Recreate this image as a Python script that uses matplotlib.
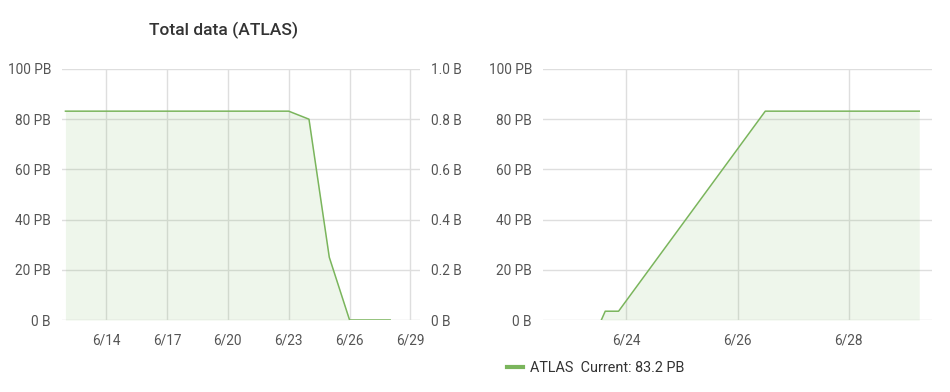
import matplotlib.pyplot as plt
from matplotlib.lines import Line2D

plt.rcParams["font.family"] = ["Roboto", "DejaVu Sans"]

# left panel: daily totals, days in June
left_days = [12, 13, 14, 15, 16, 17, 18, 19, 20, 21, 22, 23, 24, 25, 26, 27, 28]
left_pb = [83.2, 83.2, 83.2, 83.2, 83.2, 83.2, 83.2, 83.2, 83.2, 83.2, 83.2, 83.2,
           80.0, 25.0, 0.0, 0.0, 0.0]
left_ticks = [14, 17, 20, 23, 26, 29]

# right panel: finer resolution
right_days = [23.55, 23.62, 23.86, 26.5, 29.27]
right_pb = [0.0, 3.5, 3.5, 83.2, 83.2]
right_ticks = [24, 26, 28]

y_ticks = [0, 20, 40, 60, 80, 100]
y_labels = ["0 B", "20 PB", "40 PB", "60 PB", "80 PB", "100 PB"]
y2_labels = ["0 B", "0.2 B", "0.4 B", "0.6 B", "0.8 B", "1.0 B"]

line_c = "#7ab55c"
grid_c = "#dedede"
text_c = "#555555"

fig = plt.figure(figsize=(9.5, 3.92), dpi=100)
ax1 = fig.add_axes([62 / 950, 1 - 320 / 392, 358 / 950, 251 / 392])
ax2 = fig.add_axes([543 / 950, 1 - 320 / 392, 389 / 950, 251 / 392])


def style(ax, days, pb, ticks, xlim):
    ax.fill_between(days, pb, 0, color=line_c, alpha=0.12, lw=0)
    ax.plot(days, pb, color=line_c, lw=1.1)
    ax.set_xlim(*xlim)
    ax.set_ylim(0, 100)
    ax.set_xticks(ticks)
    ax.set_xticklabels([f"6/{d}" for d in ticks])
    ax.set_yticks(y_ticks)
    ax.set_yticklabels(y_labels)
    ax.grid(True, color=grid_c, lw=1)
    ax.set_axisbelow(True)
    for s in ax.spines.values():
        s.set_visible(False)
    ax.tick_params(length=0, colors=text_c, labelsize=9.8)
    ax.tick_params(axis="x", pad=10)
    ax.tick_params(axis="y", pad=8)


style(ax1, left_days, left_pb, left_ticks, (11.83, 29.47))
style(ax2, right_days, right_pb, right_ticks, (22.5, 29.5))

ax1r = ax1.twinx()
ax1r.set_ylim(0, 100)
ax1r.set_yticks(y_ticks)
ax1r.set_yticklabels(y2_labels)
for s in ax1r.spines.values():
    s.set_visible(False)
ax1r.tick_params(length=0, colors=text_c, labelsize=9.8, pad=8)

fig.text(224 / 950, 1 - 30 / 392, "Total data (ATLAS)", ha="center", va="center",
         fontsize=12.5, fontweight="medium", color="#333333")

handle = Line2D([], [], color=line_c, lw=3)
fig.legend([handle], ["ATLAS  Current: 83.2 PB"], loc="center left",
           bbox_to_anchor=(494 / 950, 1 - 368 / 392), frameon=False,
           fontsize=10.4, labelcolor="#333333", handlelength=1.1, handletextpad=0.5)

fig.savefig("out.png", dpi=100)
